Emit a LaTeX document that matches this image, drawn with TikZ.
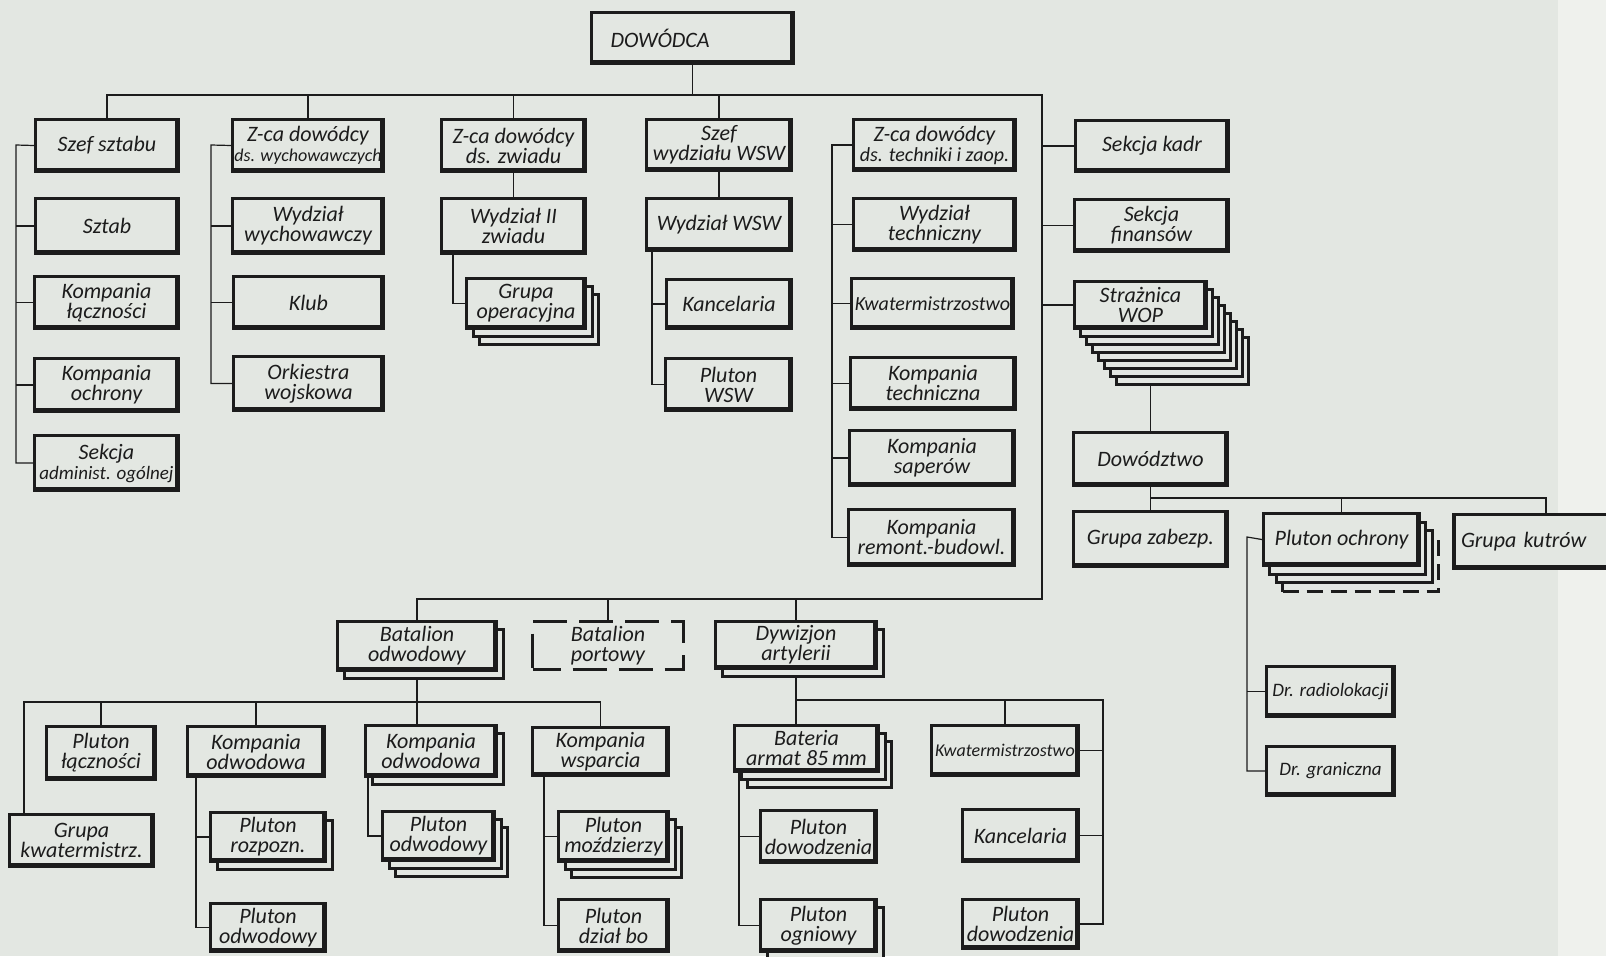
\documentclass[tikz,border=0pt]{standalone}
\usepackage{fontspec}
\setmainfont{Carlito}
\usetikzlibrary{shadows}
\definecolor{paper}{HTML}{E3E7E2}
\definecolor{paperedge}{HTML}{EFF1ED}
\definecolor{ink}{HTML}{1C1C1C}
\pgfdeclarelayer{lines}
\pgfsetlayers{lines,main}
\tikzset{
  cell/.style={draw=ink, line width=3.2pt, fill=paper, text=ink, align=center, inner sep=1pt,
    font=\fontsize{22}{20}\selectfont\itshape},
  unit/.style={cell, path picture={\draw[ink, line width=8pt] (path picture bounding box.south west) -- (path picture bounding box.south east) -- (path picture bounding box.north east);}},
  dims/.style 2 args={minimum width=#1pt, minimum height=#2pt},
  fsize/.style={font=\fontsize{#1}{20}\selectfont\itshape},
  sheet/.style 2 args={general shadow={shadow xshift=#1pt, shadow yshift=-#2pt, draw=ink, fill=paper, line width=3.2pt}},
  stack1/.style={sheet={7}{8}},
  stack2/.style={sheet={13}{16}, sheet={7}{8}},
  wopstack/.style={sheet={42}{56}, sheet={36}{48}, sheet={30}{40}, sheet={24}{32}, sheet={18}{24}, sheet={12}{16}, sheet={6}{8}},
  guardstack/.style={general shadow={shadow xshift=19pt, shadow yshift=-26pt, draw=ink, fill=paper, line width=3.2pt, dash pattern=on 16pt off 8pt}, sheet={13}{17}, sheet={6}{9}},
  port/.style={cell, dash pattern=on 34pt off 12pt, dash phase=6pt},
  wire/.style={draw=ink, line width=1.2pt},
}
\begin{document}
\begin{tikzpicture}[x=1pt, y=-1pt]
\useasboundingbox (0,0) rectangle (1606,956);
\clip (0,0) rectangle (1606,956);
\begin{pgfonlayer}{lines}
\fill[paper] (0,0) rectangle (1606,956);
\fill[paperedge] (1558,0) rectangle (1606,956);
\end{pgfonlayer}

\node[unit, dims={202}{51}, text width=164pt, align=left] (dowodca) at (692.5,38) {DOWÓDCA};

\node[unit, dims={143}{52}] (szef) at (107,145.5) {Szef sztabu};
\node[unit, dims={143}{55}] (sztab) at (107,226) {Sztab};
\node[unit, dims={144}{52}] (klacz) at (106.5,302.5) {Kompania\\łączności};
\node[unit, dims={144}{53}] (kochr) at (106.5,385) {Kompania\\ochrony};
\node[unit, dims={144}{55}] (sadm) at (106.5,463) {Sekcja\\\fontsize{19}{19}\selectfont administ. ogólnej};

\node[unit, dims={151}{52}] (zwych) at (308,145.5) {Z-ca dowódcy\\\fontsize{18}{19}\selectfont ds. wychowawczych};
\node[unit, dims={151}{55}] (wwych) at (308,226) {Wydział\\wychowawczy};
\node[unit, dims={150}{52}] (klub) at (308.5,302.5) {Klub};
\node[unit, dims={150}{54}] (orkiestra) at (308.5,383.5) {Orkiestra\\wojskowa};

\node[unit, dims={144}{52}] (zzwiad) at (513.5,145.5) {Z-ca dowódcy\\ds. zwiadu};
\node[unit, dims={144}{55}] (wzwiad) at (513.5,226) {Wydział II\\zwiadu};
\node[unit, stack2, dims={119}{50}] (grop) at (526,303.5) {Grupa\\operacyjna};

\node[unit, dims={145}{51}] (szwsw) at (719,145) {Szef\\wydziału WSW};
\node[unit, dims={145}{52}] (wwsw) at (719,224.5) {Wydział WSW};
\node[unit, dims={125}{49}] (kanc1) at (729,304) {Kancelaria};
\node[unit, dims={126}{52}] (plwsw) at (728.5,384.5) {Pluton\\WSW};

\node[unit, dims={162}{51}] (ztech) at (934.5,145) {Z-ca dowódcy\\\fontsize{20}{19}\selectfont ds. techniki i zaop.};
\node[unit, dims={162}{52}] (wtech) at (934.5,224.5) {Wydział\\techniczny};
\node[unit, fsize=20, dims={162}{50}] (kwat1) at (932.5,303.5) {Kwatermistrzostwo};
\node[unit, dims={165}{52}] (ktech) at (933,383.5) {Kompania\\techniczna};
\node[unit, dims={165}{55}] (ksap) at (932,458) {Kompania\\saperów};
\node[unit, dims={166}{56}] (krem) at (931.5,537.5) {Kompania\\remont.-budowl.};

\node[unit, dims={153}{51}] (skadr) at (1152,146) {Sekcja kadr};
\node[unit, dims={154}{52}] (sfin) at (1151.5,225.5) {Sekcja\\finansów};
\node[unit, wopstack, dims={132}{47}] (wop) at (1140.5,305) {Strażnica\\WOP};
\node[unit, dims={154}{53}] (dwz) at (1150.5,459) {Dowództwo};
\node[unit, dims={154}{55}] (gzab) at (1150.5,539) {Grupa zabezp.};
\node[unit, guardstack, dims={156}{52}] (ploch) at (1341.5,539.5) {Pluton ochrony};
\node[unit, dims={184}{54}, text width=170pt, align=left] (gkut) at (1546,541.5) {Grupa kutrów};
\node[unit, fsize=19, dims={128}{50}] (drrad) at (1330.5,691.5) {Dr. radiolokacji};
\node[unit, fsize=19, dims={128}{49}] (drgr) at (1330.5,771) {Dr. graniczna};

\node[unit, stack1, dims={159}{49}] (batodw) at (417,646) {Batalion\\odwodowy};
\node[port, dims={151}{48}] (batport) at (608,645.5) {Batalion\\portowy};
\node[unit, stack1, dims={161}{47}] (dywart) at (796,645) {Dywizjon\\artylerii};

\node[unit, dims={109}{53}] (pllacz) at (101,753) {Pluton\\łączności};
\node[unit, dims={144}{52}] (gkwat) at (81.5,840.5) {Grupa\\kwatermistrz.};
\node[unit, dims={137}{50}] (kodw1) at (256,751.5) {Kompania\\odwodowa};
\node[unit, stack1, dims={115}{49}] (plroz) at (268,837) {Pluton\\rozpozn.};
\node[unit, dims={115}{48}] (plodw1) at (268,927.5) {Pluton\\odwodowy};
\node[unit, stack1, dims={131}{51}] (kodw2) at (431,751) {Kompania\\odwodowa};
\node[unit, stack2, dims={112}{49}] (plodw2) at (438.5,836) {Pluton\\odwodowy};
\node[unit, dims={136}{48}] (kwsp) at (600.5,751.5) {Kompania\\wsparcia};
\node[unit, stack2, dims={110}{50}] (plmoz) at (613.5,836.5) {Pluton\\moździerzy};
\node[unit, dims={110}{52}] (pldz) at (613.5,925.5) {Pluton\\dział bo};
\node[unit, stack2, dims={144}{46}] (bat85) at (806.5,748.5) {Bateria\\armat 85\,mm};
\node[unit, dims={116}{52}] (pldow1) at (818.5,836.5) {Pluton\\dowodzenia};
\node[unit, stack1, dims={116}{52}] (plogn) at (818.5,925.5) {Pluton\\ogniowy};
\node[unit, fsize=18, dims={147}{50}] (kwat2) at (1005,750.5) {Kwatermistrzostwo};
\node[unit, dims={116}{52}] (kanc2) at (1020.5,835.5) {Kancelaria};
\node[unit, dims={116}{49}] (pldow2) at (1020.5,924) {Pluton\\dowodzenia};

\begin{pgfonlayer}{lines}
\coordinate (ne) at (1042,95);
\coordinate (se) at (1042,599);
\coordinate (sp1) at (16,145);
\coordinate (sp2) at (211,145);
\coordinate (sp3) at ([xshift=7pt]wwsw.south west);
\coordinate (sp4) at (832,145);
\coordinate (sp5) at (1247,537);
\coordinate (dbus) at (1150,498);
\coordinate (lbus) at (25,702);
\coordinate (abus) at (1103,700);
\coordinate (sp6) at ([xshift=10pt]kodw1.south west);
\coordinate (sp7) at ([xshift=4pt]kodw2.south west);
\coordinate (sp8) at ([xshift=13pt]kwsp.south west);
\coordinate (sp9) at ([xshift=6pt]bat85.south west);

\draw[wire] (dowodca.south) -- (dowodca.south |- ne);
\draw[wire] (szef.north) |- (ne) -- (se) -| (batodw.north);
\draw[wire] (zwych.north) -- (zwych.north |- ne);
\draw[wire] (zzwiad.north) -- (zzwiad.north |- ne);
\draw[wire] (szwsw.north) -- (szwsw.north |- ne);
\draw[wire] (batport.north) -- (batport.north |- se);
\draw[wire] (dywart.north) -- (dywart.north |- se);

\draw[wire] (szef.west) -- (sp1) |- (sadm.west);
\draw[wire] (sztab.west) -- (sztab.west -| sp1) (klacz.west) -- (klacz.west -| sp1) (kochr.west) -- (kochr.west -| sp1);
\draw[wire] (zwych.west) -- (sp2) |- (orkiestra.west);
\draw[wire] (wwych.west) -- (wwych.west -| sp2) (klub.west) -- (klub.west -| sp2);
\draw[wire] (zzwiad.south) -- (wzwiad.north);
\draw[wire] ([xshift=13pt]wzwiad.south west) |- (grop.west);
\draw[wire] (szwsw.south) -- (wwsw.north);
\draw[wire] (sp3) |- (plwsw.west) (kanc1.west) -- (kanc1.west -| sp3);
\draw[wire] (ztech.west) -- (sp4) |- (krem.west);
\draw[wire] (wtech.west) -- (wtech.west -| sp4) (kwat1.west) -- (kwat1.west -| sp4) (ktech.west) -- (ktech.west -| sp4) (ksap.west) -- (ksap.west -| sp4);

\draw[wire] (skadr.west) -- (skadr.west -| ne) (sfin.west) -- (sfin.west -| ne) (wop.west) -- (wop.west -| ne);
\draw[wire] (dwz.north) -- (dwz.north |- wop.south);
\draw[wire] (dwz.south) -- (gzab.north);
\draw[wire] (dbus) -| (gkut.north);
\draw[wire] (ploch.north) -- (ploch.north |- dbus);
\draw[wire] (ploch.west) -- (sp5) |- (drgr.west);
\draw[wire] (drrad.west) -- (drrad.west -| sp5);

\draw[wire] (batodw.south) -- (batodw.south |- kodw2.north);
\draw[wire] ([xshift=16pt]gkwat.north west) |- (kwsp.north |- lbus) -- (kwsp.north);
\draw[wire] (pllacz.north) -- (pllacz.north |- lbus) (kodw1.north) -- (kodw1.north |- lbus);
\draw[wire] (sp6) |- (plodw1.west) (plroz.west) -- (plroz.west -| sp6);
\draw[wire] (sp7) |- (plodw2.west);
\draw[wire] (sp8) |- (pldz.west) (plmoz.west) -- (plmoz.west -| sp8);
\draw[wire] (dywart.south) -- (dywart.south |- bat85.north);
\draw[wire] (dywart.south |- abus) -- (abus) |- (pldow2.east);
\draw[wire] (kwat2.north) -- (kwat2.north |- abus);
\draw[wire] (kwat2.east) -- (kwat2.east -| abus) (kanc2.east) -- (kanc2.east -| abus);
\draw[wire] (sp9) |- (plogn.west) (pldow1.west) -- (pldow1.west -| sp9);
\end{pgfonlayer}
\end{tikzpicture}
\end{document}
